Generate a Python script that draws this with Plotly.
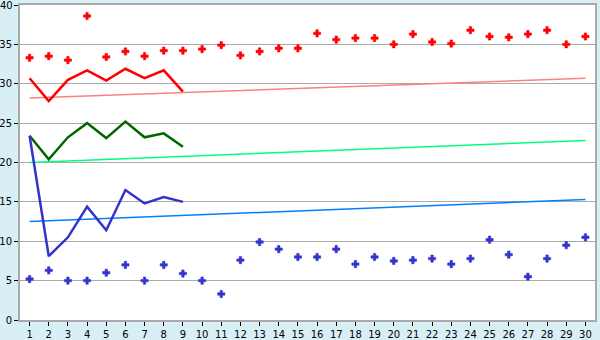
import plotly.graph_objects as go

days = list(range(1, 31))
red_points = [33.3, 33.5, 33.0, 38.6, 33.4, 34.1, 33.5, 34.2, 34.2, 34.4,
              34.9, 33.6, 34.1, 34.5, 34.5, 36.4, 35.6, 35.8, 35.8, 35.0,
              36.3, 35.3, 35.1, 36.8, 36.0, 35.9, 36.3, 36.8, 35.0, 36.0]
blue_points = [5.2, 6.3, 5.0, 5.0, 6.0, 7.0, 5.0, 7.0, 5.9, 5.0,
               3.3, 7.6, 9.9, 9.0, 8.0, 8.0, 9.0, 7.1, 8.0, 7.5,
               7.6, 7.8, 7.1, 7.8, 10.2, 8.3, 5.5, 7.8, 9.5, 10.5]
line_days = list(range(1, 10))
red_line = [30.7, 27.8, 30.5, 31.7, 30.4, 31.9, 30.7, 31.7, 29.0]
green_line = [23.4, 20.4, 23.2, 25.0, 23.1, 25.2, 23.2, 23.7, 22.0]
blue_line = [23.4, 8.1, 10.5, 14.4, 11.4, 16.5, 14.8, 15.6, 15.0]
trend_days = [1, 30]
red_trend = [28.2, 30.7]
green_trend = [20.0, 22.8]
blue_trend = [12.5, 15.3]
y_ticks = [0, 5, 10, 15, 20, 25, 30, 35, 40]

fig = go.Figure()
for y, c in [(red_trend, "#ff8080"), (green_trend, "#00ff80"), (blue_trend, "#0080ff")]:
    fig.add_trace(go.Scatter(x=trend_days, y=y, mode="lines",
                             line=dict(color=c, width=1.5)))
for y, c in [(red_line, "#ff0000"), (green_line, "#006600"), (blue_line, "#3333cc")]:
    fig.add_trace(go.Scatter(x=line_days, y=y, mode="lines",
                             line=dict(color=c, width=2.5)))
for y, c in [(red_points, "#ff0000"), (blue_points, "#3333cc")]:
    fig.add_trace(go.Scatter(x=days, y=y, mode="markers",
                             marker=dict(symbol="cross", size=6, color=c,
                                         line=dict(width=0.6, color=c))))

top = y_ticks[-1]
fig.add_annotation(x=0, xref="paper", xanchor="right", xshift=-5,
                   y=top, yref="y", yanchor="middle",
                   text=str(top), showarrow=False,
                   font=dict(family="DejaVu Sans", size=10, color="#000000"))

fig.update_layout(
    width=600, height=340,
    margin=dict(l=20, r=5, t=5, b=20),
    paper_bgcolor="#d9eff6", plot_bgcolor="#ffffff",
    showlegend=False,
    font=dict(family="DejaVu Sans", size=10, color="#000000"),
)
fig.update_xaxes(range=[0.5, 30.5], tickmode="linear", tick0=1, dtick=1,
                 showgrid=False, zeroline=False, automargin=False,
                 ticks="outside", ticklen=4, tickcolor="#000000",
                 ticklabelstandoff=0,
                 showline=True, linecolor="#aaaaaa", linewidth=2, mirror=True,
                 tickfont=dict(size=10))
fig.update_yaxes(range=[0, 40], tickmode="array", tickvals=y_ticks,
                 ticktext=[str(v) for v in y_ticks[:-1]] + [""],
                 showgrid=True, gridcolor="#aaaaaa", gridwidth=1, zeroline=False,
                 automargin=False, ticklabelstandoff=0,
                 ticks="outside", ticklen=4, tickcolor="#000000",
                 showline=True, linecolor="#aaaaaa", linewidth=2, mirror=True,
                 tickfont=dict(size=10))

fig.write_html("out.html")
